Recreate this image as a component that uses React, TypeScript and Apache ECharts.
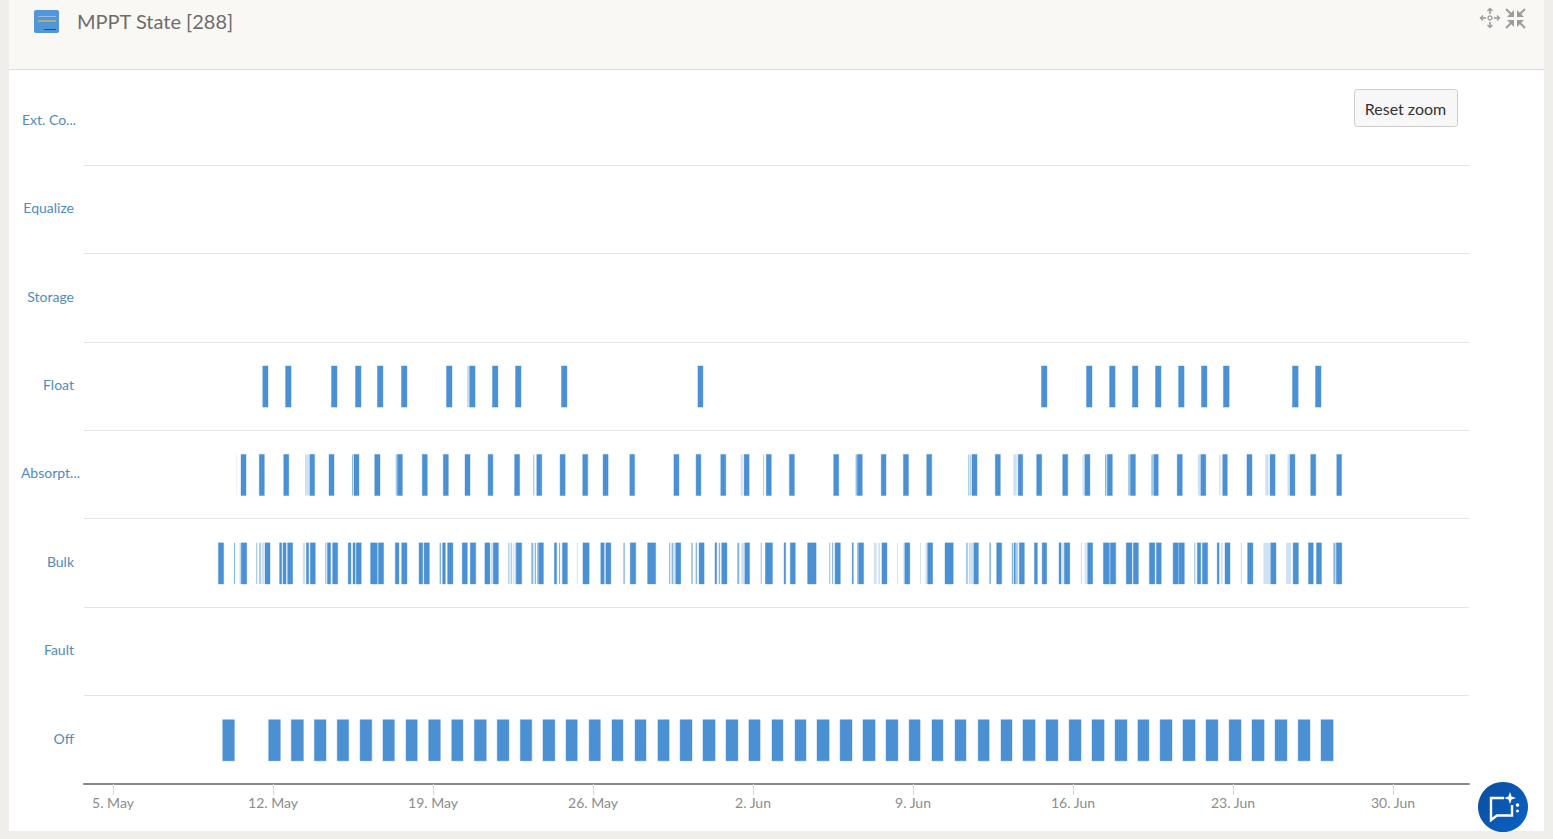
import React, { useEffect, useRef } from "react";
import * as echarts from "echarts";

// Day numbers below count from 1 May (1 May = 0), fractions are parts of a day.
const states = ["Off", "Fault", "Bulk", "Absorpt...", "Float", "Storage", "Equalize", "Ext. Co..."];
const tickDays = [4, 11, 18, 25, 32, 39, 46, 53, 60];
const tickLabels = ["5. May", "12. May", "19. May", "26. May", "2. Jun", "9. Jun", "16. Jun", "23. Jun", "30. Jun"];
const axisMinDay = 2.731;
const axisMaxDay = 63.325;

const offSpans = [
  8.80, 9.31, 10.81, 11.32, 11.80, 12.33, 12.81, 13.32, 13.81, 14.31, 14.81, 15.32, 15.81, 16.31, 16.82, 17.31,
  17.81, 18.32, 18.82, 19.31, 19.81, 20.33, 20.81, 21.32, 21.82, 22.32, 22.81, 23.33, 23.82, 24.31, 24.83, 25.32,
  25.83, 26.31, 26.84, 27.32, 27.84, 28.33, 28.81, 29.33, 29.81, 30.34, 30.82, 31.34, 31.82, 32.31, 32.83, 33.31,
  33.84, 34.32, 34.80, 35.33, 35.81, 36.33, 36.81, 37.34, 37.82, 38.34, 38.83, 39.31, 39.83, 40.31, 40.84, 41.32,
  41.85, 42.33, 42.85, 43.33, 43.81, 44.34, 44.82, 45.34, 45.83, 46.35, 46.83, 47.36, 47.84, 48.36, 48.84, 49.32,
  49.81, 50.33, 50.81, 51.34, 51.82, 52.34, 52.83, 53.35, 53.83, 54.36, 54.84, 55.36, 55.85, 56.37, 56.85, 57.38,
];

const bulkSpans = [
  8.61, 8.84, 9.61, 9.85, 10.65, 10.87, 11.29, 11.38, 11.44, 11.57, 11.64, 11.86, 12.46, 12.56, 12.63, 12.85,
  13.38, 13.52, 13.61, 13.83, 14.29, 14.41, 14.50, 14.59, 14.64, 14.86, 15.27, 15.56, 15.61, 15.84, 16.35, 16.51,
  16.63, 16.86, 17.39, 17.55, 17.61, 17.84, 18.42, 18.54, 18.64, 18.87, 19.28, 19.50, 19.63, 19.87, 20.27, 20.49,
  20.64, 20.86, 21.64, 21.88, 22.62, 22.83, 23.31, 23.41, 23.66, 23.88, 24.56, 24.83, 25.34, 25.49, 25.56, 25.78,
  26.63, 26.87, 27.39, 27.74, 28.62, 28.84, 29.64, 29.86, 30.34, 30.41, 30.63, 30.86, 31.64, 31.85, 32.54, 32.85,
  33.36, 33.43, 33.63, 33.85, 34.39, 34.76, 35.59, 35.82, 36.34, 36.39, 36.62, 36.84, 37.64, 37.86, 38.64, 38.86,
  39.64, 39.86, 40.40, 40.76, 41.66, 41.86, 42.66, 42.88, 43.42, 43.48, 43.65, 43.87, 44.31, 44.44, 44.65, 44.85,
  45.39, 45.48, 45.62, 45.86, 46.64, 46.86, 47.33, 47.59, 47.63, 47.87, 48.33, 48.58, 48.64, 48.86, 49.34, 49.58,
  49.65, 49.86, 50.38, 50.61, 50.64, 50.87, 51.44, 51.59, 51.66, 51.89, 52.31, 52.39, 52.65, 52.87, 53.64, 53.87,
  54.65, 54.88, 55.63, 55.86, 56.30, 56.51, 56.65, 56.87, 57.52, 57.76,
];
const bulkBrief = [
  9.29, 9.34, 10.27, 10.31, 10.40, 10.46, 13.29, 13.33, 18.29, 18.35, 21.30, 21.34, 21.40, 21.44, 22.30, 22.39,
  22.45, 22.51, 22.56, 22.61, 23.51, 23.56, 26.33, 26.39, 28.33, 28.38, 28.44, 28.50, 29.30, 29.36, 29.49, 29.55,
  30.50, 30.56, 31.31, 31.40, 32.34, 32.38, 35.34, 35.38, 35.46, 35.51, 36.56, 36.61, 41.33, 41.39, 42.34, 42.41,
  43.32, 43.38, 43.52, 43.58, 51.31, 51.35, 57.39, 57.48,
];
const bulkFaint = [
  9.53, 9.60, 10.50, 10.61, 12.30, 12.40, 20.54, 20.64, 21.49, 21.53, 21.57, 21.63, 24.29, 24.33, 28.50, 28.60,
  31.49, 31.61, 37.29, 37.41, 37.48, 37.56, 38.30, 38.34, 38.58, 38.62, 39.31, 39.35, 39.54, 39.63, 41.44, 41.64,
  45.53, 45.59, 46.34, 46.39, 46.51, 46.60, 52.47, 52.55, 53.34, 53.39, 54.33, 54.62, 55.32, 55.54,
];

const absorptionSpans = [
  9.60, 9.82, 10.40, 10.62, 11.47, 11.69, 12.61, 12.82, 13.45, 13.67, 14.54, 14.76, 15.45, 15.68, 16.44, 16.66,
  17.53, 17.75, 18.45, 18.67, 19.40, 19.62, 20.41, 20.62, 21.57, 21.79, 22.54, 22.76, 23.56, 23.78, 24.55, 24.77,
  25.44, 25.66, 26.61, 26.82, 28.54, 28.76, 29.51, 29.72, 30.59, 30.81, 31.61, 31.83, 32.58, 32.80, 33.59, 33.81,
  35.53, 35.75, 36.56, 36.78, 37.61, 37.82, 38.58, 38.80, 39.60, 39.82, 41.58, 41.80, 42.60, 42.82, 43.60, 43.80,
  44.41, 44.63, 45.55, 45.77, 46.52, 46.74, 47.50, 47.72, 48.51, 48.73, 49.53, 49.73, 50.56, 50.78, 51.59, 51.81,
  52.55, 52.75, 53.61, 53.83, 54.62, 54.84, 55.49, 55.71, 56.40, 56.62, 57.54, 57.75,
];
const absorptionBrief = [
  14.46, 14.50, 16.37, 16.41, 22.39, 22.43, 32.45, 32.48, 36.49, 36.54, 41.42, 41.46, 41.51, 41.54, 47.40, 47.46,
  48.42, 48.48, 49.43, 49.49,
];
const absorptionFaint = [
  9.41, 9.43, 12.40, 12.58, 31.46, 31.55, 43.39, 43.54, 46.42, 46.50, 51.46, 51.56, 52.40, 52.46, 54.41, 54.56,
  55.38, 55.46,
];

const floatSpans = [
  10.56, 10.78, 11.55, 11.79, 13.56, 13.80, 14.61, 14.85, 15.57, 15.81, 16.62, 16.86, 18.59, 18.83, 19.60, 19.84,
  20.60, 20.84, 21.61, 21.85, 23.62, 23.86, 29.59, 29.81, 44.62, 44.86, 46.59, 46.83, 47.60, 47.84, 48.60, 48.84,
  49.61, 49.85, 50.62, 50.86, 51.62, 51.86, 52.58, 52.83, 55.60, 55.85, 56.61, 56.85,
];
const floatBrief = [19.51, 19.55];
const floatFaint = [10.51, 10.56];

const toItems = (state: number, flat: number[]) => {
  const out: number[][] = [];
  for (let i = 0; i < flat.length; i += 2) out.push([state, flat[i], flat[i + 1]]);
  return out;
};

const solidData = [
  ...toItems(0, offSpans),
  ...toItems(2, bulkSpans),
  ...toItems(3, absorptionSpans),
  ...toItems(4, floatSpans),
];
const briefData = [...toItems(2, bulkBrief), ...toItems(3, absorptionBrief), ...toItems(4, floatBrief)];
const faintData = [...toItems(2, bulkFaint), ...toItems(3, absorptionFaint), ...toItems(4, floatFaint)];

const renderSpan = (color: string, edge: string | null) => (_: any, api: any) => {
  const a = api.coord([api.value(1), api.value(0)]);
  const b = api.coord([api.value(2), api.value(0)]);
  const h = api.size([0, 1])[1] * 0.465;
  return {
    type: "rect",
    shape: { x: a[0], y: a[1] - h / 2 + 0.5, width: b[0] - a[0], height: h },
    style: edge ? { fill: color, stroke: edge, lineWidth: 1 } : { fill: color },
  };
};

const spanSeries = (name: string, data: number[][], color: string, edge: string | null, z: number) => ({
  name,
  type: "custom",
  data,
  z,
  silent: true,
  encode: { x: [1, 2], y: 0 },
  renderItem: renderSpan(color, edge),
});

const FONT = "Lato, 'Open Sans', sans-serif";
const GREY = "#9c9c9c";
const arrow = (x1: number, y1: number, x2: number, y2: number, hx: number, hy: number) => ({
  type: "polyline",
  shape: { points: [[x1, y1], [x2, y2], [x2 + hx, y2 + hy]] },
  style: { stroke: GREY, lineWidth: 1.6, fill: "none" },
});

export default function App() {
  const ref = useRef<HTMLDivElement>(null);
  useEffect(() => {
    const chart = echarts.init(ref.current!, undefined, { renderer: "svg" });
    chart.setOption({
      animation: false,
      backgroundColor: "#efeeea",
      grid: { left: 84, right: 84, top: 76.5, bottom: 55 },
      xAxis: {
        type: "value",
        min: axisMinDay,
        max: axisMaxDay,
        splitLine: { show: false },
        axisLine: { show: true, lineStyle: { color: "#8a8a8a", width: 2 } },
        axisTick: { show: true, length: 11, customValues: tickDays, lineStyle: { color: "#ccd6eb", width: 1 } },
        axisLabel: {
          customValues: tickDays,
          margin: 11,
          color: "#8c8c8c",
          fontFamily: FONT,
          fontSize: 14,
          formatter: (v: number) => tickLabels[tickDays.indexOf(v)] ?? "",
        },
      },
      yAxis: {
        type: "category",
        data: states,
        axisLine: { show: false },
        axisTick: { show: false },
        axisLabel: {
          interval: 0,
          margin: 10,
          color: "#4f8bbb",
          fontFamily: FONT,
          fontSize: 14,
          padding: [0, 0, 3, 0],
          formatter: (v: string) =>
            v === "Absorpt..." ? `{wide|${v}}` : v === "Ext. Co..." ? `{mid|${v}}` : v,
          rich: {
            wide: { color: "#4f8bbb", fontFamily: FONT, fontSize: 14, padding: [0, -6, 0, 0] },
            mid: { color: "#4f8bbb", fontFamily: FONT, fontSize: 14, padding: [0, -2, 0, 0] },
          },
        },
        splitLine: {
          show: true,
          interval: 0,
          showMinLine: false,
          showMaxLine: false,
          lineStyle: { color: "#e4e4e4", width: 1 },
        },
      },
      series: [
        spanSeries("Faint", faintData, "#cfe2f4", null, 2),
        spanSeries("Brief", briefData, "#86b6e2", null, 3),
        spanSeries("State", solidData, "#4a90d2", "rgba(74,144,210,0.4)", 4),
      ],
      graphic: {
        elements: [
          { type: "rect", z: -10, shape: { x: 9, y: 0, width: 1535, height: 831 }, style: { fill: "#ffffff" } },
          { type: "rect", z: -9, shape: { x: 9, y: 0, width: 1535, height: 69 }, style: { fill: "#f9f8f5" } },
          { type: "line", z: -8, shape: { x1: 9, y1: 69.5, x2: 1544, y2: 69.5 }, style: { stroke: "#dddddb", lineWidth: 1 } },
          { type: "rect", z: 5, shape: { x: 34, y: 10, width: 25, height: 23, r: 2 }, style: { fill: "#4f97d9" } },
          { type: "rect", z: 6, shape: { x: 38, y: 20, width: 18, height: 2 }, style: { fill: "#b7a67e" } },
          { type: "rect", z: 6, shape: { x: 38, y: 16, width: 18, height: 1 }, style: { fill: "#8fbde6" } },
          { type: "rect", z: 6, shape: { x: 44, y: 29, width: 12, height: 1 }, style: { fill: "#25507a" } },
          {
            type: "text", z: 6, x: 77, y: 21,
            style: { text: "MPPT State [288]", fill: "#6d6d6d", font: `20px ${FONT}`, verticalAlign: "middle", align: "left" },
          },
          // move icon
          { type: "circle", z: 6, shape: { cx: 1490, cy: 18, r: 2 }, style: { stroke: GREY, lineWidth: 1.4, fill: "none" } },
          arrow(1490, 14, 1490, 9, 0, 0),
          arrow(1490, 22, 1490, 27, 0, 0),
          arrow(1486, 18, 1481, 18, 0, 0),
          arrow(1494, 18, 1499, 18, 0, 0),
          { type: "polyline", z: 6, shape: { points: [[1487.5, 11], [1490, 8.5], [1492.5, 11]] }, style: { stroke: GREY, lineWidth: 1.4, fill: "none" } },
          { type: "polyline", z: 6, shape: { points: [[1487.5, 25], [1490, 27.5], [1492.5, 25]] }, style: { stroke: GREY, lineWidth: 1.4, fill: "none" } },
          { type: "polyline", z: 6, shape: { points: [[1483, 15.5], [1480.5, 18], [1483, 20.5]] }, style: { stroke: GREY, lineWidth: 1.4, fill: "none" } },
          { type: "polyline", z: 6, shape: { points: [[1497, 15.5], [1499.5, 18], [1497, 20.5]] }, style: { stroke: GREY, lineWidth: 1.4, fill: "none" } },
          // compress icon
          { type: "line", z: 6, shape: { x1: 1506, y1: 9, x2: 1512, y2: 15 }, style: { stroke: GREY, lineWidth: 2 } },
          { type: "polygon", z: 6, shape: { points: [[1514, 17], [1514, 10], [1507, 17]] }, style: { fill: GREY } },
          { type: "line", z: 6, shape: { x1: 1525, y1: 9, x2: 1519, y2: 15 }, style: { stroke: GREY, lineWidth: 2 } },
          { type: "polygon", z: 6, shape: { points: [[1517, 17], [1517, 10], [1524, 17]] }, style: { fill: GREY } },
          { type: "line", z: 6, shape: { x1: 1506, y1: 28, x2: 1512, y2: 22 }, style: { stroke: GREY, lineWidth: 2 } },
          { type: "polygon", z: 6, shape: { points: [[1514, 20], [1514, 27], [1507, 20]] }, style: { fill: GREY } },
          { type: "line", z: 6, shape: { x1: 1525, y1: 28, x2: 1519, y2: 22 }, style: { stroke: GREY, lineWidth: 2 } },
          { type: "polygon", z: 6, shape: { points: [[1517, 20], [1517, 27], [1524, 20]] }, style: { fill: GREY } },
          // reset zoom button
          { type: "rect", z: 6, shape: { x: 1354.5, y: 89.5, width: 103, height: 37, r: 3 }, style: { fill: "#f7f7f7", stroke: "#cccccc", lineWidth: 1 } },
          {
            type: "text", z: 7, x: 1405.5, y: 108,
            style: { text: "Reset zoom", fill: "#333333", font: `16px ${FONT}`, align: "center", verticalAlign: "middle" },
          },
          // chat button
          {
            type: "circle", z: 8, shape: { cx: 1503, cy: 807, r: 25 },
            style: {
              fill: new echarts.graphic.LinearGradient(0, 0, 1, 1, [
                { offset: 0, color: "#0a4da0" },
                { offset: 1, color: "#0b62c4" },
              ]),
            },
          },
          {
            type: "polyline", z: 9,
            shape: { points: [[1504, 798], [1491, 798], [1491, 820], [1497, 815.5], [1512, 815.5], [1512, 805]] },
            style: { stroke: "#ffffff", lineWidth: 2.4, fill: "none" },
          },
          {
            type: "polygon", z: 9,
            shape: { points: [[1510, 792], [1511.6, 796.4], [1516, 798], [1511.6, 799.6], [1510, 804], [1508.4, 799.6], [1504, 798], [1508.4, 796.4]] },
            style: { fill: "#ffffff" },
          },
          { type: "circle", z: 9, shape: { cx: 1517.5, cy: 805, r: 1.8 }, style: { fill: "#ffffff" } },
          { type: "circle", z: 9, shape: { cx: 1517.5, cy: 811, r: 1.5 }, style: { fill: "#ffffff" } },
        ],
      },
    });
    return () => chart.dispose();
  }, []);
  return <div ref={ref} style={{ position: "fixed", left: 0, top: 0, width: 1553, height: 839 }} />;
}
